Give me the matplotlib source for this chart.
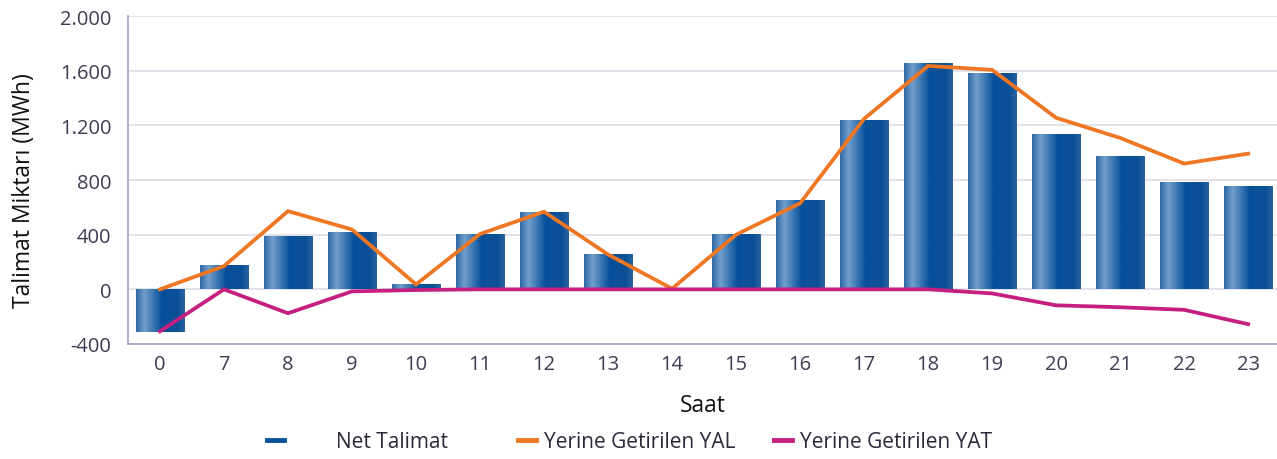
import numpy as np
import matplotlib
matplotlib.use("Agg")
from matplotlib import pyplot as plt
from matplotlib.colors import LinearSegmentedColormap
from matplotlib.lines import Line2D
from matplotlib.ticker import FuncFormatter

# data
saat = ["0", "7", "8", "9", "10", "11", "12", "13", "14", "15", "16", "17", "18", "19", "20", "21", "22", "23"]
net_talimat = [-310, 175, 392, 420, 42, 407, 568, 262, 0, 407, 655, 1240, 1655, 1585, 1140, 978, 788, 758]
yal = [0, 170, 572, 438, 36, 405, 568, 255, 5, 400, 630, 1248, 1635, 1606, 1255, 1108, 920, 993]
yat = [-307, 0, -175, -15, -5, 0, 0, 0, 0, 0, 0, 0, 0, -30, -117, -131, -150, -255]
y_ticks = [-400, 0, 400, 800, 1200, 1600, 2000]

tick_col = "#3c3c52"
plt.rcParams['font.family'] = ['Open Sans', 'DejaVu Sans']

fig = plt.figure(figsize=(12.77, 4.6), dpi=100)
ax = fig.add_axes([0.1002, 0.25, 0.8998, 0.713])

x = np.arange(len(saat))

# bars with cylinder-like shading
bar_cmap = LinearSegmentedColormap.from_list("bar", [
    (0.0, "#2f69a6"), (0.17, "#729fcb"), (0.52, "#07509a"),
    (0.85, "#0b5097"), (1.0, "#2a64a3")])
grad = np.linspace(0, 1, 200).reshape(1, -1)
bars = ax.bar(x, net_talimat, width=0.76, color="none", zorder=2)
for rect in bars:
    bx, by = rect.get_x(), rect.get_y()
    bw, bh = rect.get_width(), rect.get_height()
    if bh == 0:
        continue
    im = ax.imshow(grad, cmap=bar_cmap, aspect="auto", zorder=2,
                   extent=[bx, bx + bw, by, by + bh], interpolation="bilinear")
    im.set_clip_path(rect)

ax.plot(x, yal, color="#ef7622", lw=2.7, zorder=3, solid_joinstyle="miter")
ax.plot(x, yat, color="#c51f80", lw=2.7, zorder=3, solid_joinstyle="miter")

ax.set_xlim(-0.5, 17.45)
ax.set_ylim(-400, 2000)
ax.set_yticks(y_ticks)
ax.yaxis.set_major_formatter(FuncFormatter(lambda v, p: f"{int(v):,}".replace(",", ".")))
ax.set_xticks(x)
ax.set_xticklabels(saat)
ax.tick_params(axis="both", length=0, labelsize=14.5, colors=tick_col)
ax.tick_params(axis="x", pad=7)
ax.tick_params(axis="y", pad=12)

ax.grid(axis="y", color="#dedde8", lw=1.2, zorder=0)
ax.set_axisbelow(True)
for s in ["top", "right"]:
    ax.spines[s].set_visible(False)
for s in ["left", "bottom"]:
    ax.spines[s].set_color("#a3a3c0")
    ax.spines[s].set_linewidth(1.2)

ax.set_ylabel("Talimat Miktarı (MWh)", fontsize=16.5, color="#111111", labelpad=17)
ax.yaxis.label.set_y(0.47)
ax.set_xlabel("Saat", fontsize=16.5, color="#111111", labelpad=14)

handles = [Line2D([], [], color="#07509a", lw=3.5),
           Line2D([], [], color="#ef7622", lw=3.5),
           Line2D([], [], color="#c51f80", lw=3.5)]
labels = ["        Net Talimat      ", "Yerine Getirilen YAL", "Yerine Getirilen YAT"]
fig.legend(handles, labels, loc="center", bbox_to_anchor=(0.493, 0.037), ncol=3,
           frameon=False, handlelength=0.85, handletextpad=0.4, columnspacing=1.85,
           prop={"size": 15}, labelcolor="#2a2a3a")

fig.savefig("out.png", dpi=100)
